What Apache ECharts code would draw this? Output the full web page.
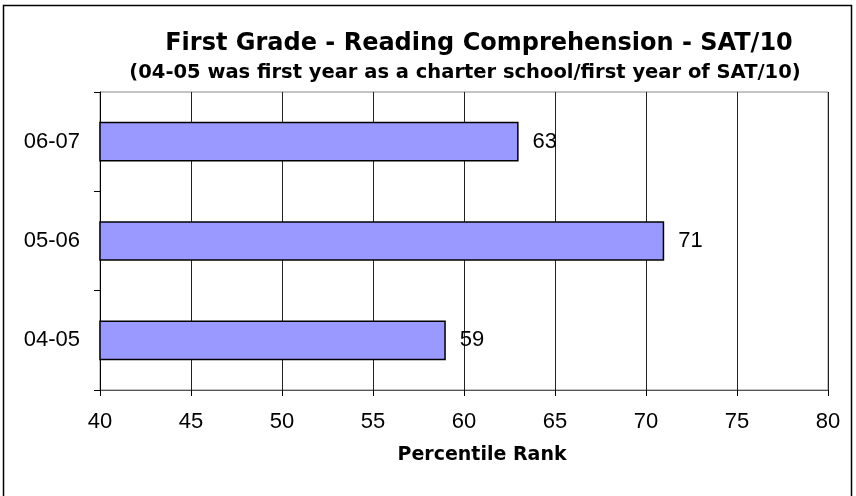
<!DOCTYPE html>
<html>
<head>
<meta charset="utf-8">
<script src="https://cdn.jsdelivr.net/npm/echarts@6/dist/echarts.min.js"></script>
<style>
  html, body { margin: 0; padding: 0; background: #fff; }
  #chart { width: 856px; height: 496px; }
</style>
</head>
<body>
<div id="chart"></div>
<script>
  const years = ["04-05", "05-06", "06-07"];
  const percentileRank = [59, 71, 63];
  const xTicks = [40, 45, 50, 55, 60, 65, 70, 75, 80];

  const font = "Liberation Sans, Arial, sans-serif";
  const boldFont = "DejaVu Sans, Liberation Sans, sans-serif";
  const chart = echarts.init(document.getElementById("chart"));

  const option = {
    backgroundColor: "#ffffff",
    animation: false,
    title: [
      {
        text: "First Grade - Reading Comprehension - SAT/10",
        left: 474,
        top: 27,
        textAlign: "center",
        textStyle: { fontFamily: boldFont, fontSize: 24, fontWeight: "bold", color: "#000" },
      },
      {
        text: "(04-05 was first year as a charter school/first year of SAT/10)",
        left: 460,
        top: 58,
        textAlign: "center",
        textStyle: { fontFamily: boldFont, fontSize: 19.5, fontWeight: "bold", color: "#000" },
      },
    ],
    graphic: [
      {
        type: "rect",
        shape: { x: 3.5, y: 5.5, width: 848, height: 500 },
        style: { fill: "none", stroke: "#000", lineWidth: 1.5 },
        silent: true,
      },
    ],
    grid: {
      left: 100,
      right: 28,
      top: 92,
      bottom: 106,
      show: true,
      borderColor: "#888",
      borderWidth: 1,
    },
    xAxis: {
      type: "value",
      min: xTicks[0],
      max: xTicks[xTicks.length - 1],
      interval: 5,
      name: "Percentile Rank",
      nameLocation: "middle",
      nameGap: 56,
      nameTextStyle: {
        fontFamily: boldFont,
        fontSize: 19,
        fontWeight: "bold",
        color: "#000",
        padding: [0, 0, 0, 36],
      },
      axisLine: { show: true, lineStyle: { color: "#555", width: 1 } },
      axisTick: { show: true, length: 6, lineStyle: { color: "#000" } },
      axisLabel: { fontFamily: font, fontSize: 22, color: "#000", margin: 21 },
      splitLine: { show: true, lineStyle: { color: "#222", width: 1 } },
    },
    yAxis: {
      type: "category",
      data: years,
      axisLine: { show: true, lineStyle: { color: "#000", width: 1 } },
      axisTick: { show: true, length: 6, lineStyle: { color: "#000" } },
      axisLabel: { fontFamily: font, fontSize: 22, color: "#000", margin: 20 },
    },
    series: [
      {
        type: "bar",
        data: percentileRank,
        barWidth: "40%",
        itemStyle: { color: "#9999ff", borderColor: "#000", borderWidth: 1.5 },
        label: {
          show: true,
          position: "right",
          distance: 14,
          fontFamily: font,
          fontSize: 22,
          color: "#000",
        },
      },
    ],
  };

  chart.setOption(option);
</script>
</body>
</html>
